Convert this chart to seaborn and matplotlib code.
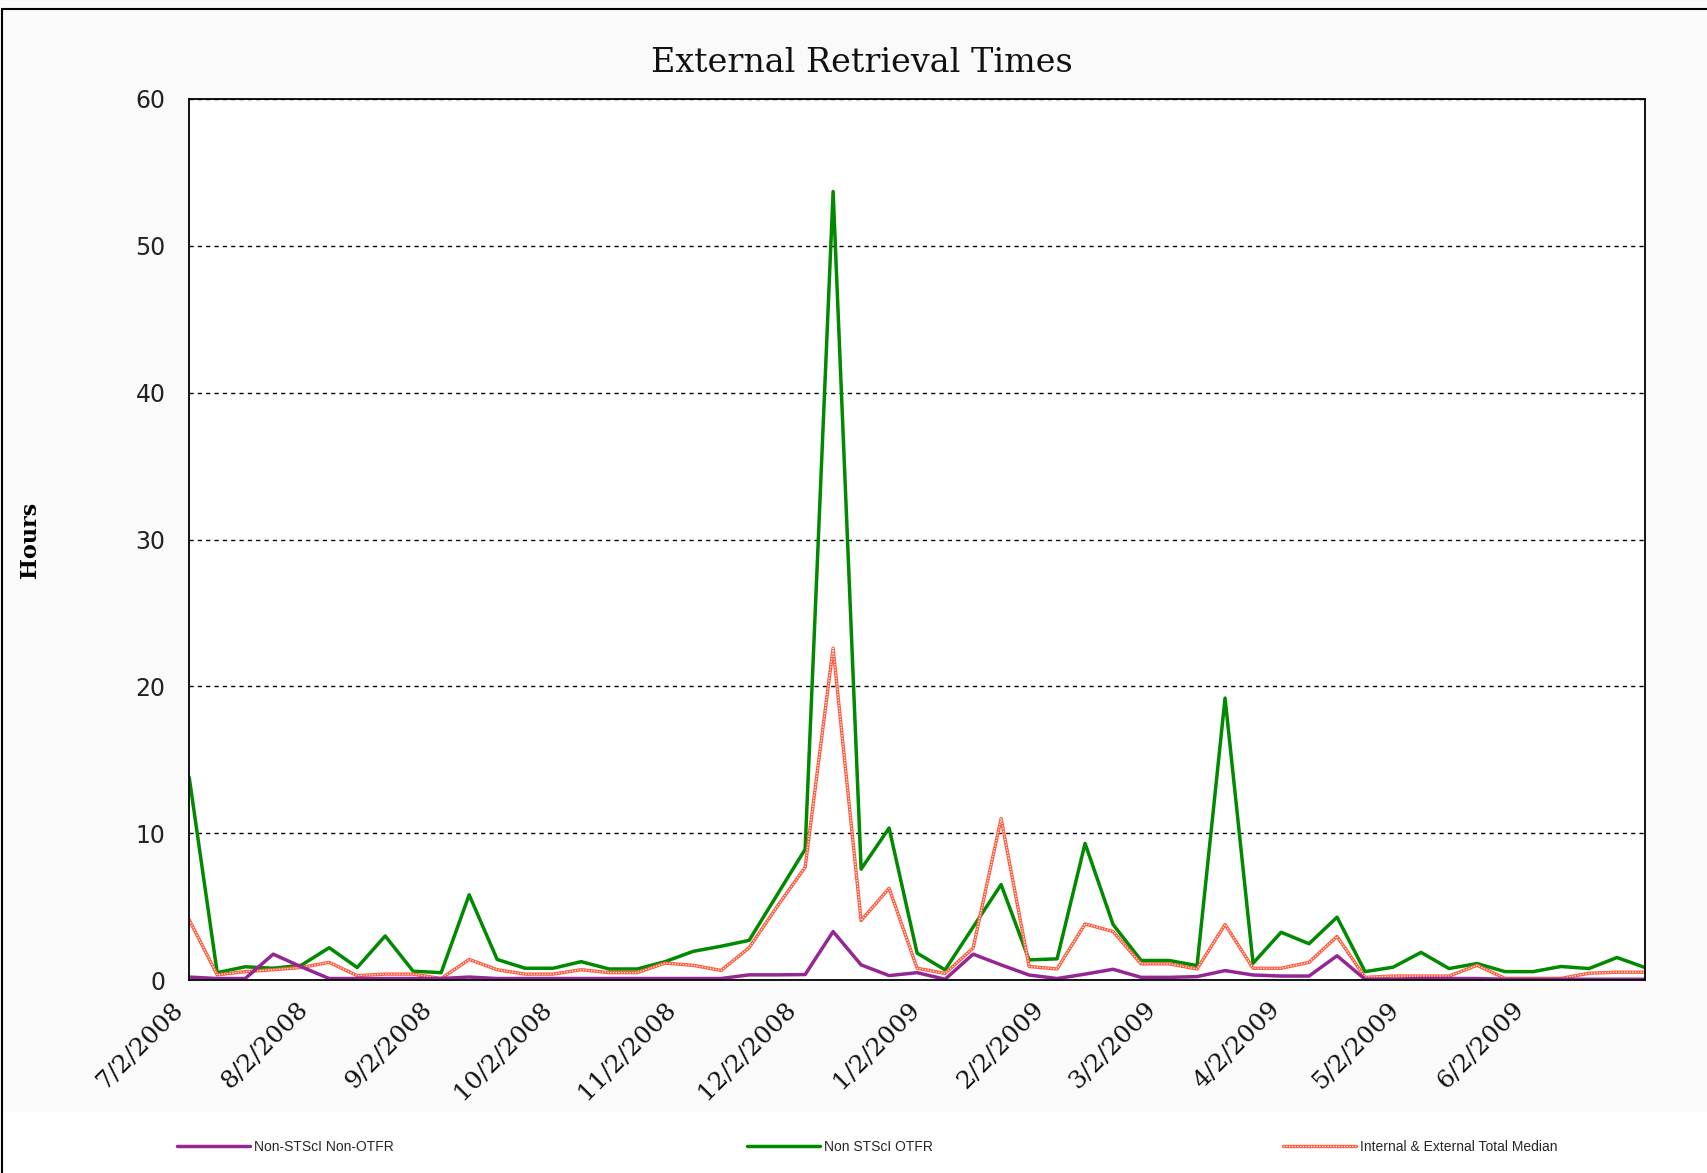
import matplotlib
matplotlib.use('Agg')
import matplotlib.pyplot as plt
import matplotlib.transforms as mtransforms
from matplotlib.lines import Line2D
from matplotlib.patches import Rectangle
from matplotlib.legend_handler import HandlerTuple
import seaborn as sns
import pandas as pd

# ---------------- data ----------------
week_start = '2008-07-02'
n_weeks = 53

non_stsci_non_otfr = [0.2, 0.1, 0.1, 1.76, 0.9, 0.1, 0.1, 0.1, 0.1, 0.1,
                      0.2, 0.1, 0.1, 0.1, 0.1, 0.1, 0.1, 0.1, 0.1, 0.1,
                      0.35, 0.35, 0.37, 3.3, 1.03, 0.3, 0.5, 0.05, 1.76, 1.03,
                      0.34, 0.1, 0.4, 0.73, 0.18, 0.18, 0.23, 0.64, 0.34, 0.27,
                      0.27, 1.65, 0.05, 0.05, 0.1, 0.1, 0.1, 0.05, 0.05, 0.05,
                      0.05, 0.05, 0.05]

non_stsci_otfr = [13.8, 0.5, 0.9, 0.8, 1.0, 2.2, 0.85, 3.0, 0.6, 0.5,
                  5.8, 1.4, 0.8, 0.8, 1.25, 0.75, 0.75, 1.25, 1.95, 2.3,
                  2.7, 5.8, 8.9, 53.7, 7.55, 10.35, 1.83, 0.69, 3.6, 6.5,
                  1.37, 1.44, 9.3, 3.78, 1.33, 1.33, 0.98, 19.2, 1.14, 3.25,
                  2.47, 4.28, 0.57, 0.87, 1.88, 0.78, 1.12, 0.57, 0.57, 0.92,
                  0.78, 1.53, 0.85]

total_median = [4.1, 0.35, 0.57, 0.7, 0.85, 1.2, 0.3, 0.4, 0.4, 0.1,
                1.4, 0.7, 0.4, 0.4, 0.7, 0.5, 0.5, 1.15, 1.0, 0.65,
                2.2, 5.0, 7.67, 22.6, 4.05, 6.25, 0.8, 0.45, 2.17, 11.0,
                0.92, 0.75, 3.82, 3.3, 1.1, 1.1, 0.75, 3.78, 0.8, 0.8,
                1.2, 2.97, 0.18, 0.27, 0.27, 0.27, 1.0, 0.11, 0.11, 0.11,
                0.46, 0.53, 0.53]

series_labels = ['Non-STScI Non-OTFR', 'Non STScI OTFR', 'Internal & External Total Median']
tick_dates = ['2008-07-02', '2008-08-02', '2008-09-02', '2008-10-02', '2008-11-02',
              '2008-12-02', '2009-01-02', '2009-02-02', '2009-03-02', '2009-04-02',
              '2009-05-02', '2009-06-02']
y_ticks = [0, 10, 20, 30, 40, 50, 60]
title_text = 'External Retrieval Times'
ylabel_text = 'Hours'

weeks = pd.date_range(week_start, periods=n_weeks, freq='7D')
df = pd.DataFrame({'Week': weeks,
                   series_labels[0]: non_stsci_non_otfr,
                   series_labels[1]: non_stsci_otfr,
                   series_labels[2]: total_median})

# ---------------- style ----------------
sns.set_theme(style='white')
plt.rcParams['font.family'] = ['DejaVu Sans']

W, H = 1707, 1173
fig = plt.figure(figsize=(W / 100, H / 100), dpi=100, facecolor='#fafafa')
ax = fig.add_axes([189.2 / W, 1 - 980 / H, (1645 - 189.2) / W, (980 - 99) / H])
ax.set_facecolor('white')

purple = '#952795'
green = '#008a00'
red = '#ff5a3c'

sns.lineplot(data=df, x='Week', y=series_labels[1], ax=ax, color=green, lw=2.5, zorder=3)
sns.lineplot(data=df, x='Week', y=series_labels[2], ax=ax, color=red, lw=2.4, zorder=4)
ax.plot(df['Week'], df[series_labels[2]], color='white', lw=0.9, ls=(0, (1, 1.2)), zorder=4.5)
sns.lineplot(data=df, x='Week', y=series_labels[0], ax=ax, color=purple, lw=2.5, zorder=5)

ax.set_xlim(weeks[0], weeks[-1])
ax.set_ylim(0, 60)
ax.set_xlabel('')
ax.set_ylabel('')
ax.tick_params(axis='both', direction='out', length=7, width=1.2, color='black')
ax.tick_params(axis='y', pad=10)
ax.tick_params(axis='x', pad=4)

ax.set_yticks(y_ticks)
ax.set_yticklabels([str(v) for v in y_ticks], fontsize=17, color='#222222',
                   family='DejaVu Sans')
tdates = pd.to_datetime(tick_dates)
ax.set_xticks(tdates)
ax.set_xticklabels([f"{d.month}/{d.day}/{d.year}" for d in tdates], rotation=45,
                   ha='right', va='top', rotation_mode='anchor', fontsize=18,
                   family='DejaVu Serif', color='#111111')

ax.yaxis.grid(True, color='black', lw=1.0, ls=(0, (3, 3)))
ax.xaxis.grid(False)
ax.set_axisbelow(True)
for s in ax.spines.values():
    s.set_visible(True)
    s.set_color('black')
    s.set_linewidth(1.3)
    s.set_zorder(6)

# title & y label
fig.text(862 / W, 1 - 63 / H, title_text, ha='center', va='center', fontsize=24,
         family='DejaVu Serif', color='#111111')
fig.text(30 / W, 1 - 540 / H, ylabel_text, rotation=90, ha='center', va='center',
         fontsize=16, fontweight='bold', family='DejaVu Serif', color='black')

# frame & background regions
fig.patches.append(Rectangle((2 / W, 0), 1, (1173 - 1112) / H, transform=fig.transFigure,
                             facecolor='white', edgecolor='none', zorder=0))
fig.add_artist(Line2D([2 / W, 2 / W], [0, 1 - 9 / H], transform=fig.transFigure,
                      color='black', lw=1.5))
fig.add_artist(Line2D([2 / W, 1], [1 - 9 / H, 1 - 9 / H], transform=fig.transFigure,
                      color='black', lw=1.5))

# legend
h_purple = Line2D([], [], color=purple, lw=2.5)
h_green = Line2D([], [], color=green, lw=2.5)
h_red = (Line2D([], [], color=red, lw=2.4),
         Line2D([], [], color='white', lw=0.9, ls=(0, (1, 1.2))))
handles = [h_purple, h_green, h_red]
leg_x = [177, 747, 1283]
fs = 10
for h, lab, x0 in zip(handles, series_labels, leg_x):
    fig.legend(handles=[h], labels=[lab], loc='center left',
               bbox_to_anchor=(x0 / W, 1 - 1147 / H), frameon=False,
               handlelength=73 / (fs * 100 / 72), handletextpad=0.3,
               borderpad=0, borderaxespad=0,
               handler_map={tuple: HandlerTuple(ndivide=1)},
               prop={'family': ['Liberation Sans', 'DejaVu Sans'], 'size': fs})

# shift the rotated date labels so they sit like the reference
fig.canvas.draw()
shift = mtransforms.ScaledTranslation(-17 / 100, -2 / 100, fig.dpi_scale_trans)
for tick in ax.xaxis.get_major_ticks():
    tick.label1.set_transform(tick.label1.get_transform() + shift)

fig.savefig('out.png', dpi=100, facecolor=fig.get_facecolor())
